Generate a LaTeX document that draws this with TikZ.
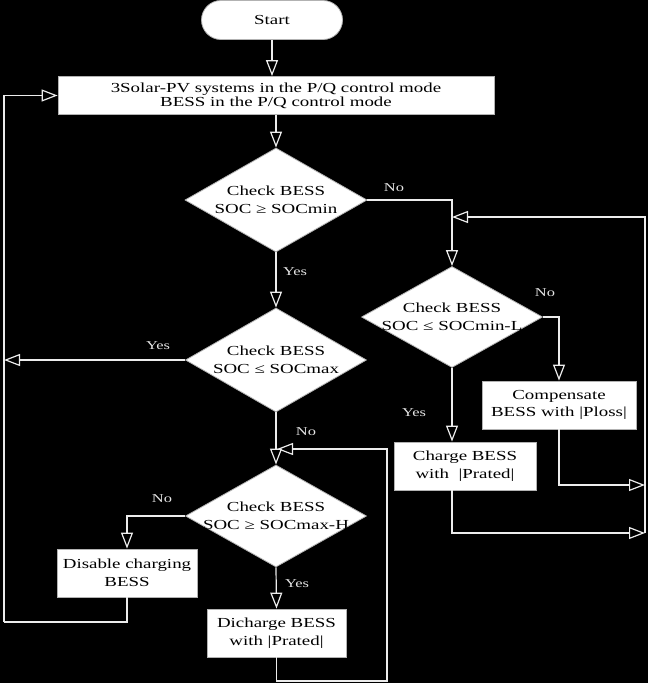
\documentclass[tikz,border=0pt]{standalone}
\usepackage{fontspec}
\setmainfont{Liberation Serif}[FakeStretch=1.37]
\usetikzlibrary{arrows.meta,shapes.geometric,calc}
\begin{document}
\begin{tikzpicture}[x=1pt,y=-1pt,
  ln/.style={draw=gray!15,line width=1.2pt},
  arr/.style={ln,-{Triangle[open,length=16pt,width=12pt]}},
  box/.style={draw=gray!60,fill=white,line width=0.8pt,inner sep=0pt,align=center,
    font=\fontsize{13.8}{17.6}\selectfont,text=black},
  dia/.style={diamond,draw=gray!60,fill=white,line width=0.8pt,inner sep=0pt,aspect=1.75},
  dtxt/.style={align=center,font=\fontsize{13.8}{17.6}\selectfont,text=black,inner sep=0pt},
  lbl/.style={font=\fontsize{12}{14}\selectfont,text=gray!20,inner sep=0pt}]
\fill[black] (0,0) rectangle (648,683);
\useasboundingbox (0,0) rectangle (648,683);
% nodes
\node[box,rounded corners=19.5pt,minimum width=141pt,minimum height=39pt] (start) at (272,20) {Start};
\node[box,minimum width=436pt,minimum height=38pt,font=\fontsize{13.8}{13.8}\selectfont] (init) at (276,95.5)
  {3Solar-PV systems in the P/Q control mode\\BESS in the P/Q control mode};
\node[dia,minimum width=182pt,minimum height=104pt] (d1) at (276,200) {};
\node[dtxt] at (d1) {Check BESS\\SOC ≥ SOCmin};
\node[dia,minimum width=181pt,minimum height=101pt] (d2) at (452,317) {};
\node[dtxt] at (d2) {Check BESS\\SOC ≤ SOCmin-L};
\node[dia,minimum width=181pt,minimum height=104pt] (d3) at (276,360) {};
\node[dtxt] at (d3) {Check BESS\\SOC ≤ SOCmax};
\node[dia,minimum width=181pt,minimum height=102pt] (d4) at (276,516) {};
\node[dtxt] at (d4) {Check BESS\\SOC ≥ SOCmax-H};
\node[box,minimum width=154pt,minimum height=48pt] (comp) at (559,405) {Compensate\\BESS with |Ploss|};
\node[box,minimum width=142pt,minimum height=48pt] (charge) at (465,466) {Charge BESS\\with \ |Prated|};
\node[box,minimum width=140pt,minimum height=48pt] (disable) at (127,573) {Disable charging\\BESS};
\node[box,minimum width=139pt,minimum height=48pt] (dich) at (276.5,633) {Dicharge BESS\\with |Prated|};
% coordinates
\coordinate (j1) at (452,217);
\coordinate (rt1) at (645,485);
\coordinate (rt2) at (645,533);
\coordinate (lf1) at (4,360);
\coordinate (lf2) at (4,622);
\coordinate (lp1) at (387,681);
\coordinate (lp2) at (387,449);
\coordinate (j2) at (277,449);
% connectors
\draw[arr] (start.south) -- (start.south |- init.north);
\draw[arr] (init.south -| d1) -- (d1.north);
\draw[arr] (d1.east) -| (d2.north);
\draw[arr] (rt2) |- (j1);
\draw[arr] (d2.east) -| (comp.north);
\draw[arr] (comp.south) |- (rt1);
\draw[arr] (d2.south) -- (d2.south |- charge.north);
\draw[arr] (charge.south -| d2.south) |- (rt2);
\draw[arr] (d1.south) -- (d3.north);
\draw[arr] (d3.west) -- (lf1);
\draw[arr] (lf2) |- (init.west);
\draw[ln] (disable.south) |- (lf2);
\draw[arr] (d3.south) -- (d4.north);
\draw[arr] (d4.west) -| (disable.north);
\draw[arr] (d4.south) -- (dich.north);
\draw[arr] (dich.south) |- (lp1) -- (lp2) -- (j2);
% labels
\node[lbl] (l1) at (394,188) {No};
\node[lbl] (l2) at (295,272) {Yes};
\node[lbl] (l3) at (545,293) {No};
\node[lbl] (l4) at (158,346) {Yes};
\node[lbl] (l5) at (414,413) {Yes};
\node[lbl] (l6) at (306,432) {No};
\node[lbl] (l7) at (162,499) {No};
\node[lbl] (l8) at (297,584) {Yes};
\end{tikzpicture}
\end{document}
